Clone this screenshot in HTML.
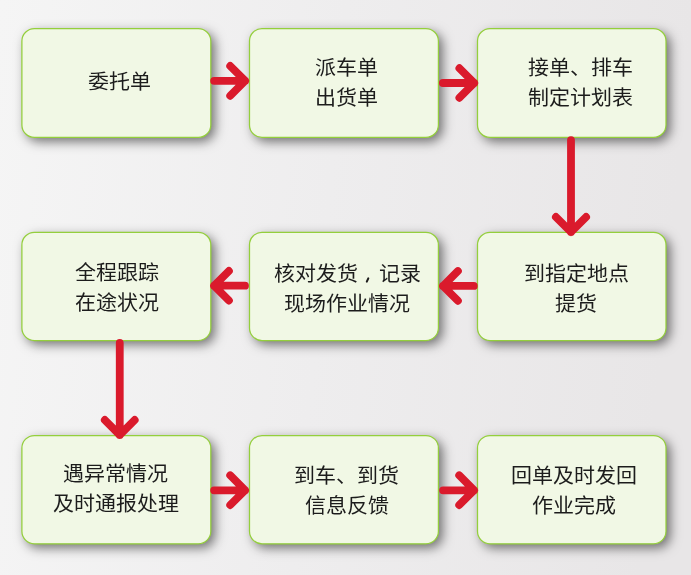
<!DOCTYPE html>
<html lang="zh-CN">
<head>
<meta charset="utf-8">
<style>
html,body{margin:0;padding:0;}
body{width:691px;height:575px;overflow:hidden;position:relative;background:#efeeef;
  font-family:"Liberation Sans",sans-serif;}
svg{position:absolute;left:0;top:0;}
.t{position:absolute;height:30px;text-align:center;
  font-size:21px;line-height:30px;color:#1c1c1c;white-space:nowrap;transform:scale(1,0.95);}
.cm{display:inline-block;width:21px;}
</style>
</head>
<body>
<svg width="691" height="575" viewBox="0 0 691 575">
<defs>
<linearGradient id="bg" x1="0" y1="0" x2="1" y2="0.08">
<stop offset="0" stop-color="#f5f5f5"/>
<stop offset="0.5" stop-color="#eeedee"/>
<stop offset="1" stop-color="#e8e6e7"/>
</linearGradient>
<filter id="sh" x="-10%" y="-15%" width="125%" height="140%">
<feGaussianBlur in="SourceAlpha" stdDeviation="6"/>
<feOffset dx="3.5" dy="3.5" result="b"/>
<feFlood flood-color="#0a080c" flood-opacity="0.55"/>
<feComposite in2="b" operator="in"/>
</filter>
</defs>
<rect width="691" height="575" fill="url(#bg)"/>
<g filter="url(#sh)" fill="#000">
<rect x="21.9" y="28.6" width="188.90" height="108.80" rx="12.5" ry="12.5"/>
<rect x="249.5" y="28.6" width="188.90" height="108.80" rx="12.5" ry="12.5"/>
<rect x="477.5" y="28.6" width="188.50" height="108.80" rx="12.5" ry="12.5"/>
<rect x="21.9" y="232.4" width="188.90" height="108.10" rx="12.5" ry="12.5"/>
<rect x="249.5" y="232.4" width="188.90" height="108.10" rx="12.5" ry="12.5"/>
<rect x="477.5" y="232.4" width="188.50" height="108.10" rx="12.5" ry="12.5"/>
<rect x="21.9" y="435.5" width="188.90" height="108.30" rx="12.5" ry="12.5"/>
<rect x="249.5" y="435.5" width="188.90" height="108.30" rx="12.5" ry="12.5"/>
<rect x="477.5" y="435.5" width="188.50" height="108.30" rx="12.5" ry="12.5"/>
</g>
<g fill="#f1f8e5" stroke="#94cf3c" stroke-width="1.25">
<rect x="21.9" y="28.6" width="188.90" height="108.80" rx="12.5" ry="12.5"/>
<rect x="249.5" y="28.6" width="188.90" height="108.80" rx="12.5" ry="12.5"/>
<rect x="477.5" y="28.6" width="188.50" height="108.80" rx="12.5" ry="12.5"/>
<rect x="21.9" y="232.4" width="188.90" height="108.10" rx="12.5" ry="12.5"/>
<rect x="249.5" y="232.4" width="188.90" height="108.10" rx="12.5" ry="12.5"/>
<rect x="477.5" y="232.4" width="188.50" height="108.10" rx="12.5" ry="12.5"/>
<rect x="21.9" y="435.5" width="188.90" height="108.30" rx="12.5" ry="12.5"/>
<rect x="249.5" y="435.5" width="188.90" height="108.30" rx="12.5" ry="12.5"/>
<rect x="477.5" y="435.5" width="188.50" height="108.30" rx="12.5" ry="12.5"/>
</g>
</svg>
<div class="t" style="left:24.90px;top:67.00px;width:188.90px">委托单</div>
<div class="t" style="left:251.80px;top:53.10px;width:188.90px">派车单</div>
<div class="t" style="left:251.80px;top:83.10px;width:188.90px">出货单</div>
<div class="t" style="left:486.20px;top:52.50px;width:188.50px">接单、排车</div>
<div class="t" style="left:486.20px;top:82.50px;width:188.50px">制定计划表</div>
<div class="t" style="left:23.00px;top:258.15px;width:188.90px">全程跟踪</div>
<div class="t" style="left:23.00px;top:288.15px;width:188.90px">在途状况</div>
<div class="t" style="left:252.80px;top:259.40px;width:188.90px">核对发货<span class=cm></span>记录</div>
<div class="t" style="left:252.80px;top:289.40px;width:188.90px">现场作业情况</div>
<div class="t" style="left:481.80px;top:259.10px;width:188.50px">到指定地点</div>
<div class="t" style="left:481.80px;top:289.10px;width:188.50px">提货</div>
<div class="t" style="left:21.45px;top:459.25px;width:188.90px">遇异常情况</div>
<div class="t" style="left:21.45px;top:489.25px;width:188.90px">及时通报处理</div>
<div class="t" style="left:252.50px;top:461.35px;width:188.90px">到车、到货</div>
<div class="t" style="left:252.50px;top:491.35px;width:188.90px">信息反馈</div>
<div class="t" style="left:479.85px;top:461.15px;width:188.50px">回单及时发回</div>
<div class="t" style="left:479.85px;top:491.15px;width:188.50px">作业完成</div>
<svg width="691" height="575" viewBox="0 0 691 575">
<g fill="none" stroke="#da1a2c" stroke-width="7.8" stroke-linecap="round" stroke-linejoin="round">

<path d="M214.1 80.85H245.15M230.2 65.9L245.15 80.85L230.2 95.8"/>
<path d="M442.9 83H474.2M459.4 68.2L474.2 83L459.4 97.8"/>
<path d="M571 140.1V232.1M555.9 217L571 232.1L586.1 217"/>
<path d="M473.8 285.95H443.05M457.9 271.1L443.05 285.95L457.9 300.8"/>
<path d="M245 285.7H214.1M228.9 270.9L214.1 285.7L228.9 300.5"/>
<path d="M119.75 342.9V434.9M104.8 419.9L119.75 434.9L134.7 419.9"/>
<path d="M214.1 490.3H245.1M230.2 475.3L245.1 490.3L230.2 505.1"/>
<path d="M443.1 490.3H474.1M459.2 475.3L474.1 490.3L459.2 505.1"/>

</g>
<path d="M368.3 278.3L366.8 281.7" stroke="#1c1c1c" stroke-width="2" stroke-linecap="round" fill="none"/>
</svg>
</body>
</html>
